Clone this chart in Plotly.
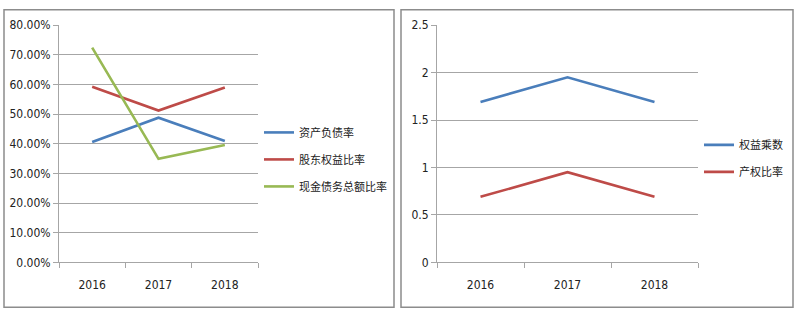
import plotly.graph_objects as go

years = ["2016", "2017", "2018"]
# left chart (percent)
debt_ratio = [0.406, 0.488, 0.409]          # 资产负债率
equity_ratio = [0.592, 0.512, 0.590]        # 股东权益比率
cash_debt_ratio = [0.724, 0.349, 0.396]     # 现金债务总额比率
# right chart
equity_multiplier = [1.69, 1.95, 1.69]      # 权益乘数
property_ratio = [0.69, 0.95, 0.69]         # 产权比率

W, H = 797, 320
BLUE, RED, GREEN = "#4a7ebb", "#be4b48", "#98b954"
GRID = "#a6a6a6"
TICKFONT = dict(family="Liberation Sans Narrow, DejaVu Sans Condensed, sans-serif", size=12, color="#222")
LEGFONT = dict(family="Noto Sans CJK SC, sans-serif", size=11, color="#222")

fig = go.Figure()
for name, vals, col in [("资产负债率", debt_ratio, BLUE),
                        ("股东权益比率", equity_ratio, RED),
                        ("现金债务总额比率", cash_debt_ratio, GREEN)]:
    fig.add_trace(go.Scatter(x=years, y=vals, name=name, mode="lines",
                             line=dict(color=col, width=2.6),
                             xaxis="x", yaxis="y", legend="legend", legendgroup=name))
for name, vals, col in [("权益乘数", equity_multiplier, BLUE),
                        ("产权比率", property_ratio, RED)]:
    fig.add_trace(go.Scatter(x=years, y=vals, name=name, mode="lines",
                             line=dict(color=col, width=2.6),
                             xaxis="x2", yaxis="y2", legend="legend2", legendgroup=name))

def xax(domain, anchor):
    return dict(domain=domain, anchor=anchor, type="category", range=[-0.5, 2.5],
                tickson="boundaries", ticks="outside", ticklen=5, tickcolor=GRID,
                ticklabelstandoff=11,
                showline=True, linecolor=GRID, linewidth=1, showgrid=False,
                tickfont=TICKFONT, zeroline=False, fixedrange=True)

def yax(domain, anchor, rng, dtick, fmt):
    return dict(domain=domain, anchor=anchor, range=rng, dtick=dtick, tickformat=fmt,
                ticks="outside", ticklen=5, tickcolor=GRID,
                showline=True, linecolor=GRID, linewidth=1,
                showgrid=True, gridcolor=GRID, gridwidth=1,
                tickfont=TICKFONT, zeroline=False, fixedrange=True)

ydom = [(H - 267) / H, (H - 19) / H]
fig.update_layout(
    width=W, height=H, margin=dict(l=0, r=0, t=0, b=0),
    paper_bgcolor="white", plot_bgcolor="white",
    xaxis=xax([59 / W, 258 / W], "y"),
    yaxis=yax(ydom, "x", [0, 0.8], 0.1, ".2%"),
    xaxis2=xax([437 / W, 698 / W], "y2"),
    yaxis2=yax(ydom, "x2", [0, 2.5], 0.5, ""),
    legend=dict(x=259 / W, y=(H - 116) / H, xanchor="left", yanchor="top",
                font=LEGFONT, bgcolor="rgba(0,0,0,0)", tracegroupgap=8,
                traceorder="grouped", itemwidth=30),
    legend2=dict(x=699 / W, y=(H - 129) / H, xanchor="left", yanchor="top",
                 font=LEGFONT, bgcolor="rgba(0,0,0,0)", tracegroupgap=8,
                 traceorder="grouped", itemwidth=30),
    shapes=[
        dict(type="rect", xref="paper", yref="paper",
             x0=4 / W, x1=394 / W, y0=(H - 314) / H, y1=(H - 3) / H,
             line=dict(color="#8c8c8c", width=1.5)),
        dict(type="rect", xref="paper", yref="paper",
             x0=401 / W, x1=793 / W, y0=(H - 314) / H, y1=(H - 3) / H,
             line=dict(color="#8c8c8c", width=1.5)),
    ],
)

fig.write_html("out.html")
